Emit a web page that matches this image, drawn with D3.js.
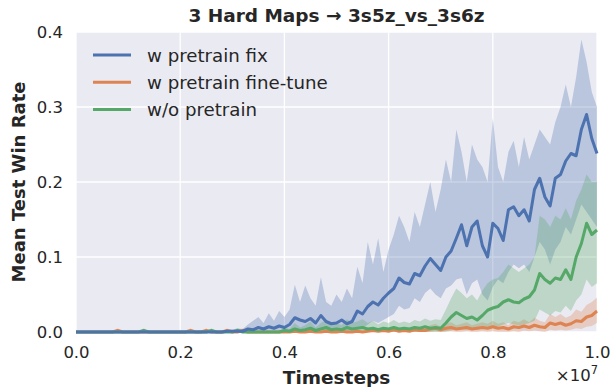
<!DOCTYPE html>
<html>
<head>
<meta charset="utf-8">
<script src="https://cdn.jsdelivr.net/npm/d3@7"></script>
<style>
  body { margin: 0; background: #fff; }
  text { font-family: "DejaVu Sans", sans-serif; fill: #262626; }
</style>
</head>
<body>
<figure id="chart" style="margin:0"></figure>
<script>
// timesteps in units of 1e7, step 0.01
const steps = d3.range(0, 101).map(i => i / 100);

const seriesNames = ["w pretrain fix", "w pretrain fine-tune", "w/o pretrain"];
const colors = ["#4C72B0", "#DD8452", "#55A868"];

const xTicks = [0, 0.2, 0.4, 0.6, 0.8, 1.0];
const yTicks = [0, 0.1, 0.2, 0.3, 0.4];

// w pretrain fix
const fixMean = [
  0,0,0,0,0,0,0,0,0,0, 0,0,0,0,0,0,0,0,0,0, 0,0,0,0,0,0,0,0,0,0.001,
  0.001,0.001,0.001,0.004,0.003,0.006,0.004,0.007,0.005,0.008,
  0.006,0.01,0.019,0.016,0.014,0.018,0.012,0.022,0.014,0.011,
  0.012,0.016,0.011,0.014,0.028,0.024,0.034,0.04,0.036,0.045,
  0.052,0.058,0.072,0.066,0.064,0.078,0.075,0.088,0.098,0.09,
  0.082,0.1,0.108,0.125,0.143,0.115,0.14,0.148,0.115,0.1,
  0.145,0.138,0.122,0.163,0.167,0.155,0.163,0.148,0.19,0.205,
  0.18,0.168,0.205,0.21,0.228,0.238,0.235,0.27,0.29,0.258,
  0.238
];
const fixHi = [
  0,0,0,0,0,0,0,0,0,0, 0,0,0,0,0,0,0,0,0,0, 0,0,0,0,0,0,0,0,0,0.004,
  0.003,0.005,0.004,0.01,0.015,0.02,0.012,0.025,0.015,0.028,
  0.02,0.03,0.063,0.04,0.062,0.045,0.035,0.073,0.04,0.035,
  0.05,0.04,0.058,0.045,0.087,0.065,0.12,0.09,0.125,0.08,
  0.11,0.13,0.155,0.14,0.12,0.16,0.14,0.17,0.2,0.16,
  0.19,0.23,0.2,0.27,0.24,0.2,0.25,0.23,0.22,0.2,
  0.285,0.22,0.2,0.24,0.255,0.22,0.26,0.23,0.25,0.27,
  0.26,0.25,0.28,0.3,0.33,0.3,0.34,0.39,0.36,0.32,
  0.3
];
const fixLo = [
  0,0,0,0,0,0,0,0,0,0, 0,0,0,0,0,0,0,0,0,0, 0,0,0,0,0,0,0,0,0,0,
  0,0,0,0,0,0,0,0,0,0,
  0,0,0.003,0.002,0.002,0.004,0.001,0.004,0.002,0.001,
  0.002,0.003,0.001,0.002,0.006,0.005,0.01,0.015,0.012,0.016,
  0.02,0.024,0.035,0.03,0.032,0.045,0.04,0.052,0.058,0.05,
  0.045,0.058,0.062,0.07,0.072,0.05,0.065,0.07,0.05,0.042,
  0.06,0.07,0.065,0.08,0.09,0.085,0.09,0.08,0.1,0.12,
  0.11,0.09,0.11,0.12,0.14,0.13,0.15,0.17,0.16,0.15,
  0.14
];

// w pretrain fine-tune
const tuneMean = [
  0,0,0,0,0,0,0,0,0.002,0, 0,0,0,0,0,0,0,0,0,0, 0,0,0.002,0,0,0.002,0,0,0,0.002,
  0,0,0.002,0,0,0,0,0,0,0,
  0,0,0.001,0,0,0.001,0,0,0.001,0,
  0,0.001,0,0,0.001,0,0.001,0.002,0.001,0.002,
  0.001,0.003,0.001,0.002,0.001,0.003,0.002,0.002,0.004,0.005,
  0.003,0.005,0.006,0.004,0.005,0.006,0.004,0.005,0.006,0.005,
  0.007,0.005,0.006,0.004,0.007,0.006,0.008,0.006,0.009,0.007,
  0.006,0.012,0.01,0.012,0.009,0.011,0.015,0.014,0.02,0.022,
  0.028
];
const tuneHi = [
  0,0,0,0,0,0,0,0,0.005,0, 0,0,0,0,0,0,0,0,0,0, 0,0,0.005,0,0,0.005,0,0,0,0.005,
  0,0,0.005,0,0,0,0,0,0,0,
  0,0,0.003,0,0,0.003,0,0,0.003,0,
  0,0.003,0,0,0.003,0,0.003,0.005,0.003,0.005,
  0.003,0.007,0.003,0.005,0.003,0.007,0.005,0.005,0.009,0.011,
  0.007,0.011,0.013,0.009,0.011,0.013,0.009,0.011,0.013,0.011,
  0.015,0.011,0.013,0.009,0.015,0.013,0.017,0.013,0.019,0.015,
  0.013,0.024,0.02,0.024,0.019,0.022,0.03,0.027,0.036,0.04,
  0.046
];
const tuneLo = [
  0,0,0,0,0,0,0,0,0,0, 0,0,0,0,0,0,0,0,0,0, 0,0,0,0,0,0,0,0,0,0,
  0,0,0,0,0,0,0,0,0,0,
  0,0,0,0,0,0,0,0,0,0,
  0,0,0,0,0,0,0,0,0,0,
  0,0,0,0,0,0,0,0,0,0.001,
  0,0,0.001,0,0,0.001,0,0,0.001,0,
  0.001,0,0,0,0.001,0,0.002,0.001,0.002,0.001,
  0,0.003,0.002,0.003,0.002,0.003,0.005,0.004,0.007,0.008,
  0.012
];

// w/o pretrain
const scratchMean = [
  0,0,0,0,0,0,0,0,0,0, 0,0,0,0.002,0,0,0,0,0,0, 0,0,0,0,0,0,0.002,0,0,0,
  0,0.002,0,0,0,0,0,0,0,0,
  0.002,0.001,0.004,0.002,0.003,0.005,0.002,0.004,0.006,0.003,
  0.004,0.003,0.006,0.004,0.005,0.006,0.004,0.005,0.003,0.005,
  0.004,0.006,0.004,0.005,0.004,0.006,0.005,0.007,0.005,0.006,
  0.005,0.012,0.02,0.026,0.022,0.018,0.02,0.016,0.022,0.029,
  0.032,0.034,0.04,0.043,0.04,0.039,0.044,0.047,0.056,0.078,
  0.07,0.065,0.072,0.07,0.083,0.07,0.1,0.118,0.145,0.13,
  0.136
];
const scratchHi = [
  0,0,0,0,0,0,0,0,0,0, 0,0,0,0.005,0,0,0,0,0,0, 0,0,0,0,0,0,0.005,0,0,0,
  0,0.005,0,0,0,0,0,0,0,0,
  0.006,0.004,0.012,0.006,0.009,0.014,0.006,0.012,0.016,0.009,
  0.012,0.009,0.017,0.012,0.014,0.017,0.012,0.015,0.01,0.014,
  0.012,0.016,0.012,0.014,0.012,0.016,0.014,0.018,0.015,0.017,
  0.016,0.03,0.045,0.058,0.052,0.045,0.05,0.042,0.055,0.065,
  0.07,0.072,0.08,0.09,0.085,0.08,0.085,0.09,0.1,0.155,
  0.15,0.14,0.155,0.15,0.165,0.15,0.175,0.19,0.21,0.2,
  0.2
];
const scratchLo = [
  0,0,0,0,0,0,0,0,0,0, 0,0,0,0,0,0,0,0,0,0, 0,0,0,0,0,0,0,0,0,0,
  0,0,0,0,0,0,0,0,0,0,
  0,0,0,0,0,0,0,0,0,0,
  0,0,0,0,0,0,0,0,0,0,
  0,0,0,0,0,0,0,0,0,0,
  0,0.001,0.002,0.005,0.004,0.003,0.004,0.003,0.005,0.006,
  0.007,0.007,0.01,0.012,0.01,0.009,0.01,0.012,0.015,0.03,
  0.026,0.022,0.028,0.026,0.035,0.028,0.042,0.05,0.07,0.06,
  0.065
];

const series = [
  { mean: fixMean, lo: fixLo, hi: fixHi },
  { mean: tuneMean, lo: tuneLo, hi: tuneHi },
  { mean: scratchMean, lo: scratchLo, hi: scratchHi }
];

const W = 610, H = 387;
const margin = { left: 76, right: 13, top: 32, bottom: 55 };
const width = W - margin.left - margin.right;
const height = H - margin.top - margin.bottom;

const svg = d3.select("figure#chart")
  .append("svg")
  .attr("width", W)
  .attr("height", H);

const g = svg.append("g")
  .attr("transform", "translate(" + margin.left + "," + margin.top + ")");

const x = d3.scaleLinear().domain([0, 1]).range([0, width]);
const y = d3.scaleLinear().domain([0, 0.4]).range([height, 0]);

// background
g.append("rect")
  .attr("width", width)
  .attr("height", height)
  .attr("fill", "#EAEAF2");

// grid
g.append("g")
  .selectAll("line")
  .data(xTicks)
  .join("line")
  .attr("x1", d => x(d)).attr("x2", d => x(d))
  .attr("y1", 0).attr("y2", height)
  .attr("stroke", "#fff").attr("stroke-width", 1.3);

g.append("g")
  .selectAll("line")
  .data(yTicks)
  .join("line")
  .attr("x1", 0).attr("x2", width)
  .attr("y1", d => y(d)).attr("y2", d => y(d))
  .attr("stroke", "#fff").attr("stroke-width", 1.3);

// bands then lines
const area = d3.area()
  .x((d, i) => x(steps[i]))
  .y0(d => y(d[0]))
  .y1(d => y(d[1]));

const line = d3.line()
  .x((d, i) => x(steps[i]))
  .y(d => y(d));

series.forEach((s, k) => {
  const band = s.lo.map((v, i) => [v, s.hi[i]]);
  g.append("path")
    .datum(band)
    .attr("d", area)
    .attr("fill", colors[k])
    .attr("fill-opacity", 0.3);
});

[1, 2, 0].forEach(k => {
  g.append("path")
    .datum(series[k].mean)
    .attr("d", line)
    .attr("fill", "none")
    .attr("stroke", colors[k])
    .attr("stroke-width", 3)
    .attr("stroke-linejoin", "round");
});

// axes
const xAxis = g.append("g")
  .attr("transform", "translate(0," + height + ")")
  .call(d3.axisBottom(x).tickValues(xTicks).tickFormat(d3.format(".1f")).tickSize(0).tickPadding(14));
xAxis.select(".domain").remove();
xAxis.selectAll("text").attr("font-size", 16.5).attr("fill", "#262626");

const yAxis = g.append("g")
  .call(d3.axisLeft(y).tickValues(yTicks).tickFormat(d3.format(".1f")).tickSize(0).tickPadding(13));
yAxis.select(".domain").remove();
yAxis.selectAll("text").attr("font-size", 16.5).attr("fill", "#262626");

// labels
svg.append("text")
  .attr("x", margin.left + width / 2)
  .attr("y", 22)
  .attr("text-anchor", "middle")
  .attr("font-size", 18.5)
  .attr("font-weight", "bold")
  .text("3 Hard Maps → 3s5z_vs_3s6z");

svg.append("text")
  .attr("x", margin.left + width / 2)
  .attr("y", 384)
  .attr("text-anchor", "middle")
  .attr("font-size", 18.5)
  .attr("font-weight", "bold")
  .text("Timesteps");

svg.append("text")
  .attr("transform", "translate(24.5," + (margin.top + height / 2) + ") rotate(-90)")
  .attr("text-anchor", "middle")
  .attr("font-size", 18)
  .attr("font-weight", "bold")
  .text("Mean Test Win Rate");

const offset = svg.append("text")
  .attr("x", W - margin.right + 1)
  .attr("y", 381)
  .attr("text-anchor", "end")
  .attr("font-size", 16.5);
offset.append("tspan").text("×10");
offset.append("tspan").attr("dy", -7).attr("font-size", 11.5).text("7");

// legend
const legend = g.append("g").attr("transform", "translate(17,23)");
seriesNames.forEach((name, k) => {
  const row = legend.append("g").attr("transform", "translate(0," + (k * 27.3) + ")");
  row.append("line")
    .attr("x1", 0).attr("x2", 38)
    .attr("stroke", colors[k]).attr("stroke-width", 3);
  row.append("text")
    .attr("x", 54).attr("y", 6.5)
    .attr("font-size", 18.2)
    .text(name);
});
</script>
</body>
</html>
